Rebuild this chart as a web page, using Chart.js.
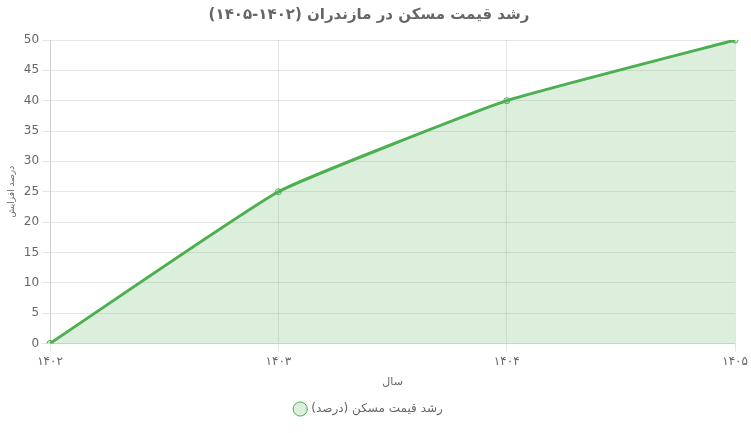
<!DOCTYPE html>
<html><head><meta charset="utf-8">
<script src="https://cdn.jsdelivr.net/npm/chart.js@4"></script>
<style>html,body{margin:0;padding:0;background:#fff}#w{width:751px;height:433px}</style>
</head><body><div id="w"><canvas id="c"></canvas></div>
<script>
const categories = ['۱۴۰۲','۱۴۰۳','۱۴۰۴','۱۴۰۵'];
const growthValues = [0,25,40,50];
const seriesLabel = 'رشد قیمت مسکن (درصد)';
const titleText = 'رشد قیمت مسکن در مازندران (۱۴۰۲-۱۴۰۵)';
Chart.defaults.font.family = "Tahoma, 'DejaVu Sans', sans-serif";
new Chart(document.getElementById('c'), {
  type: 'line',
  data: { labels: categories, datasets: [{
    label: seriesLabel, data: growthValues,
    borderColor: 'rgb(76,175,80)', backgroundColor: 'rgba(76,175,80,0.2)',
    fill: true, tension: 0.12, borderWidth: 3, pointRadius: 3,
    pointBackgroundColor: 'rgba(76,175,80,0.2)', pointBorderColor: 'rgb(76,175,80)', pointBorderWidth: 1
  }]},
  options: {
    responsive: true, maintainAspectRatio: false, animation: false,
    layout: { padding: { left: 2, right: 15, top: 6, bottom: 8 } },
    plugins: {
      title: { display: true, text: titleText, color: '#666', font: { size: 15, weight: 'bold' }, padding: { top: 0, bottom: 16 } },
      legend: { position: 'bottom', labels: { color: '#666', font: { size: 12 }, usePointStyle: true, pointStyle: 'circle', boxWidth: 10, boxHeight: 10 } }
    },
    scales: {
      x: { title: { display: true, text: 'سال', color: '#666', font: { size: 11 } }, ticks: { color: '#666' } },
      y: { min: 0, max: 50, ticks: { stepSize: 5, color: '#666' }, title: { display: true, text: 'درصد افزایش', color: '#666', font: { size: 9 } } }
    }
  }
});
</script></body></html>
